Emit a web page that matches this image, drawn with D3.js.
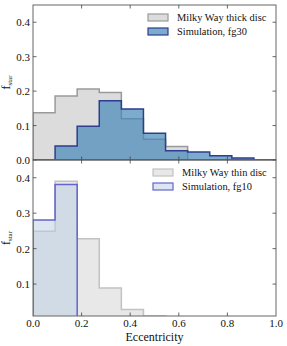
<!DOCTYPE html>
<html>
<head>
<meta charset="utf-8">
<script src="https://cdn.jsdelivr.net/npm/d3@7"></script>
<style>
  body { margin: 0; background: #fff; }
  svg text { font-family: "Liberation Serif", "Times New Roman", "DejaVu Serif", serif; fill: #111; }
</style>
</head>
<body>
<script>
const width = 287, height = 346;
const margin = ({ left: 33, right: 11 });

// bin edges (11 bins between 0 and 1)
const binEdges = [0, 0.0909, 0.1818, 0.2727, 0.3636, 0.4545, 0.5455, 0.6364, 0.7273, 0.8182, 0.9091, 1.0];

// top panel
const thickDisc = [0.137, 0.186, 0.206, 0.196, 0.12, 0.06, 0.039, 0, 0, 0, 0];
const simFg30  = [0, 0.041, 0.098, 0.172, 0.148, 0.078, 0.027, 0.023, 0.012, 0.006, 0];
// bottom panel
const thinDisc = [0.249, 0.39, 0.228, 0.089, 0.028, 0.01, 0, 0, 0, 0, 0];
const simFg10  = [0.281, 0.381, 0, 0, 0, 0, 0, 0, 0, 0, 0];

const xTicks = [0, 0.2, 0.4, 0.6, 0.8, 1.0];
const yTicksTop = [0, 0.1, 0.2, 0.3, 0.4];
const yTicksBottom = [0.1, 0.2, 0.3, 0.4];

const x = d3.scaleLinear().domain([0, 1]).range([margin.left, width - margin.right]);
const yTop = d3.scaleLinear().domain([0, 0.45]).range([160, 5]);
const yBot = d3.scaleLinear().domain([0.01, 0.45]).range([316, 160]);

const svg = d3.select('body').append('svg')
  .attr('width', width).attr('height', height)
  .attr('font-family', '"Liberation Serif", "Times New Roman", serif');

const stepPoints = vals => {
  const pts = [[binEdges[0], 0]];
  vals.forEach((v, i) => { pts.push([binEdges[i], v]); pts.push([binEdges[i + 1], v]); });
  pts.push([binEdges[binEdges.length - 1], 0]);
  return pts;
};

const drawPanel = (y, id, series, ticks, legend) => {
  const [y0, y1] = [y.range()[1], y.range()[0]];
  svg.append('clipPath').attr('id', id)
    .append('rect').attr('x', x(0)).attr('y', y0).attr('width', x(1) - x(0)).attr('height', y1 - y0);

  const g = svg.append('g').attr('clip-path', `url(#${id})`);
  const line = d3.line().x(d => x(d[0])).y(d => y(d[1]));

  series.forEach(s => {
    g.append('path')
      .attr('d', line(stepPoints(s.values)) + 'Z')
      .attr('fill', s.fill).attr('fill-opacity', s.alpha)
      .attr('stroke', s.stroke).attr('stroke-width', 1.5)
      .attr('stroke-linejoin', 'miter');
  });

  // frame
  svg.append('rect')
    .attr('x', x(0)).attr('y', y0).attr('width', x(1) - x(0)).attr('height', y1 - y0)
    .attr('fill', 'none').attr('stroke', '#666').attr('stroke-width', 1);

  // inward ticks
  const tk = svg.append('g').attr('stroke', '#444').attr('stroke-width', 0.8);
  xTicks.slice(1, -1).forEach(t => {
    tk.append('line').attr('x1', x(t)).attr('x2', x(t)).attr('y1', y0).attr('y2', y0 + 3.5);
    tk.append('line').attr('x1', x(t)).attr('x2', x(t)).attr('y1', y1).attr('y2', y1 - 3.5);
  });
  ticks.forEach(t => {
    tk.append('line').attr('x1', x(0)).attr('x2', x(0) + 3.5).attr('y1', y(t)).attr('y2', y(t));
    tk.append('line').attr('x1', x(1)).attr('x2', x(1) - 3.5).attr('y1', y(t)).attr('y2', y(t));
    svg.append('text')
      .attr('x', 30).attr('y', y(t) + 4)
      .attr('text-anchor', 'end').attr('font-size', 11)
      .text(d3.format('.1f')(t));
  });

  // y label
  const lab = svg.append('text')
    .attr('transform', `translate(10,${(y0 + y1) / 2}) rotate(-90)`)
    .attr('text-anchor', 'middle').attr('font-size', 12);
  lab.append('tspan').text('f');
  lab.append('tspan').attr('font-size', 7).attr('dy', 2).text('star');

  // legend
  legend.forEach((l, i) => {
    const s = series[i];
    const ly = y0 + 9 + i * 14;
    svg.append('rect')
      .attr('x', l.x).attr('y', ly).attr('width', 20).attr('height', 7)
      .attr('fill', s.fill).attr('fill-opacity', s.alpha)
      .attr('stroke', s.stroke).attr('stroke-width', 1.2);
    svg.append('text')
      .attr('x', l.x + 29).attr('y', ly + 7).attr('font-size', 10.4)
      .text(l.label);
  });
};

drawPanel(yTop, 'clipTop', [
  { values: thickDisc, fill: '#dcdcdc', alpha: 1, stroke: '#9a9a9a' },
  { values: simFg30, fill: '#4587b8', alpha: 0.7, stroke: '#2e3d8f' }
], yTicksTop, [
  { x: 148, label: 'Milky Way thick disc' },
  { x: 148, label: 'Simulation, fg30' }
]);

drawPanel(yBot, 'clipBot', [
  { values: thinDisc, fill: '#e8e8e8', alpha: 1, stroke: '#c2c2c2' },
  { values: simFg10, fill: '#b8cee3', alpha: 0.5, stroke: '#6464cc' }
], yTicksBottom, [
  { x: 153, label: 'Milky Way thin disc' },
  { x: 153, label: 'Simulation, fg10' }
]);

// x tick labels
xTicks.forEach(t => {
  svg.append('text')
    .attr('x', x(t)).attr('y', 327)
    .attr('text-anchor', 'middle').attr('font-size', 11)
    .text(d3.format('.1f')(t));
});

svg.append('text')
  .attr('x', x(0.5)).attr('y', 341)
  .attr('text-anchor', 'middle').attr('font-size', 12)
  .text('Eccentricity');
</script>
</body>
</html>
